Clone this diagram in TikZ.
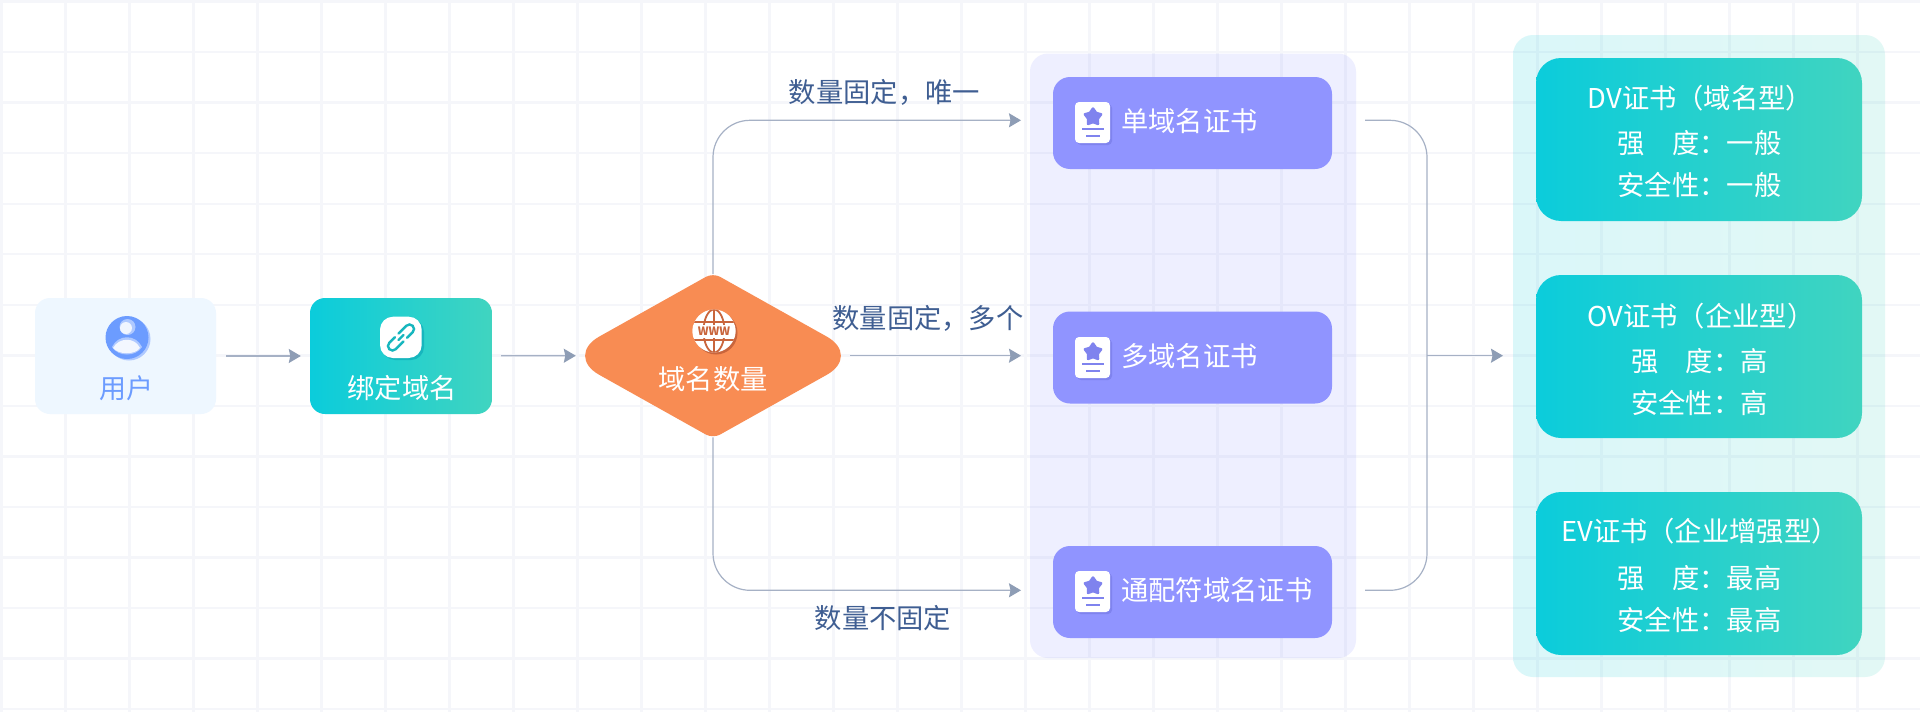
\documentclass[tikz,border=0pt]{standalone}
\usepackage{fontspec}
\setmainfont{Noto Sans CJK SC}
\newfontfamily\tcparen{Noto Sans CJK TC}
\usetikzlibrary{arrows.meta,shapes.geometric}
\definecolor{gridc}{HTML}{F5F6FA}
\definecolor{connc}{HTML}{A6B1C5}
\definecolor{tipc}{HTML}{8E9DB5}
\definecolor{labc}{HTML}{3F5E92}
\definecolor{tealA}{HTML}{0BCCDB}
\definecolor{tealB}{HTML}{40D4C0}
\definecolor{tealS}{HTML}{17B6BE}
\definecolor{purp}{HTML}{9094FF}
\definecolor{purpD}{HTML}{7F83EE}
\definecolor{orng}{HTML}{F88C53}
\definecolor{orngD}{HTML}{C9653C}
\definecolor{blueI}{HTML}{6C9CFF}
\definecolor{blueL}{HTML}{AFC9FF}
\definecolor{userbg}{HTML}{EEF7FF}
\newcommand{\lp}{{\tcparen（}}
\newcommand{\rp}{{\tcparen）}}
\newcommand{\certicon}[2]{%
  \begin{scope}[shift={(#1)}]
    \fill[purpD,rounded corners=4pt] (2,2) rectangle (37,43);
    \fill[white,rounded corners=4pt] (0,0) rectangle (35,41);
    \node[star,star points=5,star point ratio=1.65,minimum size=17pt,inner sep=0pt,fill=purpD,draw=purpD,line width=2.5pt,line join=round] (#2) at (18,15) {};
    \draw[purpD,line width=2pt] (7,27) -- (29,27);
    \draw[purpD,line width=2pt] (11,34) -- (25,34);
  \end{scope}}
\tikzset{
  x=1pt,y=-1pt,
  gridline/.style={gridc,line width=2.4pt},
  conn/.style={connc,line width=1.2pt},
  arr/.style={conn,-{Stealth[length=12pt,width=14pt,inset=1.5pt,color=tipc]}},
  tealbox/.style={left color=tealA,right color=tealB,rounded corners=#1,inner sep=0pt,draw=none},
  certbox/.style={fill=purp,rounded corners=17pt,minimum width=279pt,minimum height=92pt,inner sep=0pt},
  infobox/.style={tealbox=25pt,minimum width=326pt,minimum height=163pt},
  wtxt/.style={text=white,font=\fontsize{27.3pt}{32pt}\selectfont,inner sep=0pt},
  ltxt/.style={text=labc,font=\fontsize{27.3pt}{32pt}\selectfont,inner sep=0pt},
}
\begin{document}
\begin{tikzpicture}
\useasboundingbox (0,0) rectangle (1920,712);
\fill[white] (0,0) rectangle (1920,712);
% grid
\foreach \i in {0,...,30} {\draw[gridline] (1.5+64*\i,0) -- (1.5+64*\i,712);}
\foreach \j in {0,...,14} {\draw[gridline] (0,1.5+50.55*\j) -- (1920,1.5+50.55*\j);}
% panels
\node[fill=purp,fill opacity=.15,rounded corners=18pt,minimum width=326pt,minimum height=604.5pt,inner sep=0pt] (panelA) at (1193,355.75) {};
\node[left color=tealA,right color=tealB,opacity=.15,rounded corners=20pt,minimum width=372pt,minimum height=642pt,inner sep=0pt] (panelB) at (1699,356) {};
% boxes
\node[fill=userbg,rounded corners=15pt,minimum width=181pt,minimum height=116pt,inner sep=0pt] (user) at (125.5,356) {};
\node[tealbox=15pt,minimum width=182pt,minimum height=116pt] (bind) at (401,356) {};
% diamond
\node[minimum width=256pt,minimum height=163pt,inner sep=0pt] (dia) at (713,355.7) {};
\fill[orng] (599.2,336.6) -- (706,276.8) .. controls (709.87,274.65) and (716.13,274.65) .. (720,276.8)
  -- (826.8,336.6) .. controls (845.6,347.15) and (845.6,364.25) .. (826.8,374.8)
  -- (720,434.6) .. controls (716.13,436.75) and (709.87,436.75) .. (706,434.6)
  -- (599.2,374.8) .. controls (580.4,364.25) and (580.4,347.15) .. (599.2,336.6) -- cycle;
% cert boxes
\node[certbox] (c1) at (1192.5,123) {};
\node[certbox] (c2) at (1192.5,357.5) {};
\node[certbox] (c3) at (1192.5,592) {};
% info boxes
\node[infobox] (i1) at (1699,139.5) {};
\node[infobox] (i2) at (1699,356.5) {};
\node[infobox] (i3) at (1699,573.5) {};
% free ends
\coordinate (t1) at (1021,120.3);
\coordinate (t2) at (1021,355.7);
\coordinate (t3) at (1021,590.3);
\coordinate (b1) at (1365,120.3);
\coordinate (b3) at (1365,590.3);
\coordinate (bm) at (1427,355.7);
\coordinate (out) at (1503,355.7);
% connectors
\draw[arr,shorten <=10pt,shorten >=9pt] (user) -- (bind);
\draw[arr,shorten <=9pt,shorten >=9pt] (bind) -- (dia.west);
\draw[arr,shorten <=9pt] (dia.east) -- (t2);
\draw[arr,rounded corners=37pt] (dia.north) |- (t1);
\draw[arr,rounded corners=37pt] (dia.south) |- (t3);
\draw[conn,rounded corners=37pt] (b1) -| (bm) |- (b3);
\draw[arr] (bm) -- (out);
% user icon
\fill[blueL] (129,339) circle (21.5);
\fill[blueI] (127,337.5) circle (21.5);
\fill[blueL] (127.5,327) circle (8);
\fill[white!90!blueI] (126,328) circle (6);
\begin{scope}
  \clip (127,337.5) circle (21.5);
  \fill[blueL] (112,347) .. controls (118,334) and (136,334) .. (142,347) .. controls (136,357) and (118,357) .. (112,347) -- cycle;
  \fill[white!92!blueI] (113,348) .. controls (119,337) and (135,337) .. (140,348) .. controls (135,355) and (119,355) .. (113,348) -- cycle;
\end{scope}
\node[text=blueI,font=\fontsize{27pt}{30pt}\selectfont,inner sep=0pt] (usertxt) at (126,388) {用户};
% link icon
\fill[tealS,rounded corners=13pt] (382,319) rectangle (424,360);
\fill[white,rounded corners=13pt] (380,316.7) rectangle (421.7,358);
\begin{scope}[shift={(401,337.5)},rotate=45]
  \draw[tealS,line width=2.4pt,line cap=round,rounded corners=4.4pt] (1,-4.5) -- (16.5,-4.5) -- (16.5,4.5) -- (4,4.5);
  \draw[tealS,line width=2.4pt,line cap=round,rounded corners=4.4pt] (-1,4.5) -- (-16.5,4.5) -- (-16.5,-4.5) -- (-4,-4.5);
  \draw[tealS,line width=2.4pt,line cap=round] (-3.5,0) -- (3.5,0);
\end{scope}
\node[wtxt] (bindtxt) at (402,388) {绑定域名};
% globe icon
\fill[orngD] (716,333) circle (21.5);
\fill[white] (714,331) circle (21.5);
\begin{scope}
  \clip (714,331) circle (21.5);
  \draw[orngD,line width=1.8pt] (714,331) ellipse (10.5 and 21.5);
  \draw[orngD,line width=1.8pt] (714,309) -- (714,353);
  \draw[orngD,line width=1.8pt] (692,322) -- (736,322);
  \draw[orngD,line width=1.8pt] (692,340) -- (736,340);
  \fill[white] (692,324.5) rectangle (736,337.5);
\end{scope}
\node[text=orngD,inner sep=0pt,font=\fontsize{11.5pt}{12pt}\selectfont\bfseries] (wwwtxt) at (714,331) {WWW};
\node[wtxt] (diatxt) at (713,379) {域名数量};
% branch labels
\node[ltxt] (l1) at (884.5,92) {数量固定，唯一};
\node[ltxt] (l2) at (928,318) {数量固定，多个};
\node[ltxt] (l3) at (883,618) {数量不固定};
% cert content
\certicon{1075,102}{s1}
\certicon{1075,337}{s2}
\certicon{1075,571}{s3}
\node[wtxt,anchor=west] (c1t) at (1121,121) {单域名证书};
\node[wtxt,anchor=west] (c2t) at (1121,356) {多域名证书};
\node[wtxt,anchor=west] (c3t) at (1121,590) {通配符域名证书};
% info content
\node[wtxt] (a1) at (1700.5,98) {DV证书\lp 域名型\rp};
\node[wtxt] (a2) at (1699.5,143.5) {强　度：一般};
\node[wtxt] (a3) at (1699.5,185.5) {安全性：一般};
\node[wtxt] (b1t) at (1701,316) {OV证书\lp 企业型\rp};
\node[wtxt] (b2t) at (1699.5,361) {强　度：高};
\node[wtxt] (b3t) at (1699.5,402.5) {安全性：高};
\node[wtxt] (c1x) at (1700,531) {EV证书\lp 企业增强型\rp};
\node[wtxt] (c2x) at (1699.5,578) {强　度：最高};
\node[wtxt] (c3x) at (1699.5,619.5) {安全性：最高};
\end{tikzpicture}
\end{document}
